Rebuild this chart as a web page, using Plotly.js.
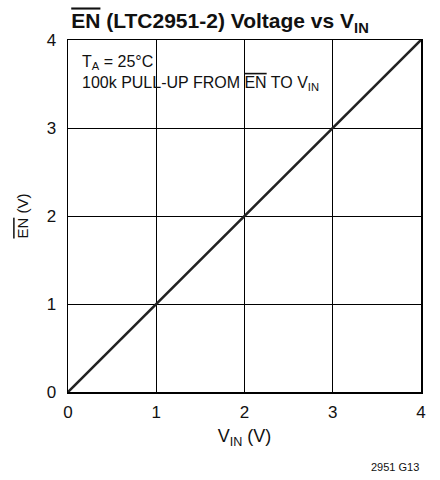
<!DOCTYPE html>
<html><head><meta charset="utf-8">
<script src="https://cdn.plot.ly/plotly-3.0.1.min.js"></script>
<style>body{margin:0;background:#fff}#c{width:440px;height:480px}</style>
</head><body><div id="c"></div>
<script>
var vin = [0, 1, 2, 3, 4];
var en = [0, 1, 2, 3, 4];
var ticks = [0, 1, 2, 3, 4];
var F = "'Liberation Sans',Arial,Helvetica,sans-serif";
var OL = function(s){return '<span style="text-decoration:overline">'+s+'</span>';};
Plotly.newPlot('c', [{
  x: vin, y: en, mode: 'lines', line: {color: '#222', width: 2.6}, hoverinfo: 'skip'
}], {
  width: 440, height: 480,
  margin: {l: 68, r: 19, t: 40, b: 88},
  paper_bgcolor: '#fff', plot_bgcolor: '#fff',
  showlegend: false,
  font: {family: F, color: '#111', size: 16},
  title: {text: '<b>' + OL('EN') + ' (LTC2951-2) Voltage vs V<sub>IN</sub></b>', x: 0.5, xanchor: 'center', y: 0.956, yanchor: 'middle', font: {size: 21, family: F, color: '#111'}},
  xaxis: {range: [0, 4], tickvals: ticks, ticktext: ticks.map(String), showgrid: true, gridcolor: '#000', gridwidth: 1,
    zeroline: false, showline: true, linecolor: '#000', linewidth: 1.5, mirror: true, ticks: '', ticklen: 0, ticklabelstandoff: 4,
    title: {text: 'V<sub>IN</sub> (V)', font: {size: 18}, standoff: 8}, tickfont: {size: 17}},
  yaxis: {range: [0, 4], tickvals: ticks, ticktext: ticks.map(String), showgrid: true, gridcolor: '#000', gridwidth: 1,
    zeroline: false, showline: true, linecolor: '#000', linewidth: 1.5, mirror: true, ticks: '', ticklen: 0, ticklabelstandoff: 7,
    title: {text: OL('EN') + ' (V)', font: {size: 15}, standoff: 14}, tickfont: {size: 17}},
  annotations: [
    {xref: 'paper', yref: 'paper', x: 0.035, y: 0.968, xanchor: 'left', yanchor: 'top', align: 'left', showarrow: false,
     text: 'T<sub>A</sub> = 25°C<br>100k PULL-UP FROM ' + OL('EN') + ' TO V<sub>IN</sub>', font: {size: 16}},
    {xref: 'paper', yref: 'paper', x: 1.0, y: -0.213, xanchor: 'right', yanchor: 'middle', showarrow: false,
     text: '2951 G13', font: {size: 11}}
  ]
}, {displayModeBar: false, staticPlot: true});
</script></body></html>
